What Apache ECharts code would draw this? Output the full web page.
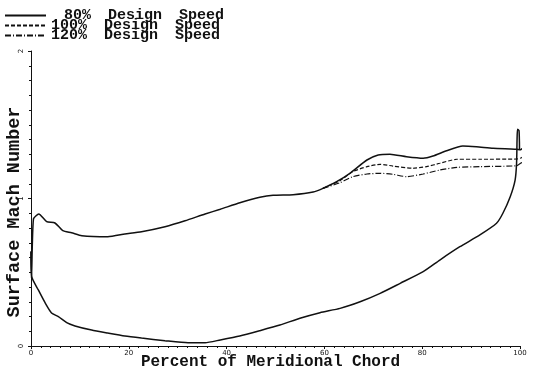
<!DOCTYPE html>
<html>
<head>
<meta charset="utf-8">
<script src="https://cdn.jsdelivr.net/npm/echarts@6/dist/echarts.min.js"></script>
<style>
  html, body { margin: 0; padding: 0; background: #fff; }
  #chart { width: 540px; height: 371px; }
</style>
</head>
<body>
<div id="chart"></div>
<script>
// Surface Mach number vs percent of meridional chord
const seriesNames = ['80% Design Speed', '100% Design Speed', '120% Design Speed'];
const xTicks = [0, 20, 40, 60, 80, 100];
const yTicks = [0, 1, 2];

// suction surface, shared by all speeds up to ~60% chord
const suctionCommon = [[0,0.64],[0.1,0.46],[0.5,0.86],[1.6,0.895],[3.2,0.843],[4.9,0.834],[6.5,0.782],[8.3,0.768],[10.4,0.748],[15.7,0.741],[19.2,0.759],[22.6,0.775],[27.4,0.809],[31.5,0.849],[35.6,0.895],[38.7,0.927],[42.7,0.971],[46.8,1.008],[49.5,1.022],[53.6,1.026],[57.7,1.044],[59.7,1.069]];
// aft suction surface per speed (with trailing-edge wiggle)
const suction80 = [[62.5,1.114],[65.2,1.171],[68.7,1.261],[71.0,1.295],[73.4,1.30],[76.8,1.283],[80.2,1.273],[82.2,1.288],[85.0,1.324],[88.3,1.356],[91.1,1.351],[94.5,1.34],[98.0,1.336],[99.3,1.334],[100,1.33],[101.6,1.376],[100.6,1.33],[102.7,1.336],[101.2,1.295]];
const suction100 = [[63.2,1.121],[65.8,1.182],[68.7,1.216],[71.4,1.232],[74.0,1.22],[78.1,1.205],[80.9,1.216],[83.6,1.239],[87.1,1.266],[91.8,1.266],[99.3,1.268],[100.2,1.275],[102,1.315],[100.8,1.261],[102.8,1.268],[101.4,1.234]];
const suction120 = [[63.2,1.107],[65.8,1.148],[68.7,1.166],[71.4,1.171],[74.0,1.164],[76.8,1.148],[80.2,1.166],[83.6,1.193],[87.1,1.211],[91.8,1.216],[99.3,1.222],[100.2,1.24],[102,1.275],[100.8,1.227],[102.8,1.227],[101.4,1.193]];
// pressure surface, leading edge to trailing edge
const pressure = [[0,0.64],[0.14,0.47],[1.5,0.38],[2.9,0.292],[4.2,0.224],[5.6,0.199],[7.3,0.158],[9.0,0.136],[12.4,0.108],[15.7,0.088],[19.2,0.068],[22.6,0.054],[27.4,0.036],[32.1,0.022],[35.6,0.022],[38.7,0.041],[42.7,0.068],[46.8,0.104],[50.9,0.142],[55.0,0.188],[59.1,0.226],[63.2,0.255],[67.3,0.30],[71.4,0.357],[75.5,0.425],[80.2,0.504],[83.6,0.583],[87.7,0.673],[91.8,0.753],[95.2,0.832],[96.5,0.90],[98.0,1.012],[99.0,1.125],[99.3,1.239],[99.4,1.40],[99.5,1.47],[99.8,1.46],[99.9,1.33]];

const ink = '#111';
const monoFont = '"Liberation Mono", "DejaVu Sans Mono", monospace';
const legendText = { fontFamily: monoFont, fontWeight: 'bold', fontSize: 15, lineHeight: 9, color: ink };

function lineSeries(name, data, type, width) {
  return {
    name: name,
    type: 'line',
    data: data,
    symbol: 'none',
    clip: false,
    smooth: 0.2,
    lineStyle: { color: ink, width: width, type: type },
    itemStyle: { color: ink },
    z: 3
  };
}

// plotter-style legend labels: wider gaps between words, "80%" right-aligned with the others
function legendLabel(name) {
  const words = name.split(' ');
  let out = words.map(function (w) { return '{w|' + w + '}'; }).join('{g| }');
  if (name.indexOf('80%') === 0) out = '{p|}' + out;
  return out;
}

const chart = echarts.init(document.getElementById('chart'));
chart.setOption({
  animation: false,
  backgroundColor: '#fff',
  grid: { left: 31, right: 20, top: 51, bottom: 25, containLabel: false, outerBoundsMode: 'none' },
  legend: {
    data: seriesNames,
    orient: 'vertical',
    left: 4,
    top: 8,
    padding: 0,
    itemWidth: 41,
    itemHeight: 8,
    itemGap: -5,
    itemStyle: { opacity: 0 },
    formatter: legendLabel,
    textStyle: Object.assign({}, legendText, {
      rich: {
        w: Object.assign({}, legendText),
        g: Object.assign({ padding: [0, 4, 0, 4] }, legendText),
        p: Object.assign({ padding: [0, 0, 0, 13] }, legendText)
      }
    })
  },
  xAxis: {
    type: 'value',
    min: xTicks[0],
    max: xTicks[xTicks.length - 1],
    interval: 20,
    name: 'Percent of Meridional Chord',
    nameLocation: 'middle',
    nameGap: 8,
    nameMoveOverlap: false,
    nameTextStyle: { fontFamily: monoFont, fontWeight: 'bold', fontSize: 16, color: ink, padding: [0, 10, 0, 0] },
    axisLine: { lineStyle: { color: ink, width: 1 } },
    axisTick: { show: true, length: 3, lineStyle: { color: ink } },
    minorTick: { show: true, splitNumber: 10, length: 2, lineStyle: { color: ink } },
    splitLine: { show: false },
    axisLabel: { fontFamily: 'DejaVu Sans', fontSize: 7, color: ink, margin: 4, hideOverlap: false }
  },
  yAxis: {
    type: 'value',
    min: yTicks[0],
    max: yTicks[yTicks.length - 1],
    interval: 1,
    name: 'Surface Mach Number',
    nameLocation: 'middle',
    nameGap: 7,
    nameMoveOverlap: false,
    nameTextStyle: { fontFamily: monoFont, fontWeight: 'bold', fontSize: 18.5, color: ink, padding: [0, 27, 0, 0] },
    axisLine: { show: true, lineStyle: { color: ink, width: 1 } },
    axisTick: { show: true, length: 3, lineStyle: { color: ink } },
    minorTick: { show: true, splitNumber: 10, length: 2, lineStyle: { color: ink } },
    splitLine: { show: false },
    axisLabel: { fontFamily: 'DejaVu Sans', fontSize: 7, color: ink, margin: 6, rotate: 90, align: 'center', verticalAlign: 'bottom', hideOverlap: false }
  },
  series: [
    lineSeries(seriesNames[0], suctionCommon.concat(suction80), 'solid', 1.5),
    lineSeries(seriesNames[1], [suctionCommon[suctionCommon.length - 1]].concat(suction100), [4, 2], 1.2),
    lineSeries(seriesNames[2], [suctionCommon[suctionCommon.length - 1]].concat(suction120), [6, 2, 1, 2], 1.2),
    lineSeries('Pressure surface', pressure, 'solid', 1.5)
  ]
});
</script>
</body>
</html>
